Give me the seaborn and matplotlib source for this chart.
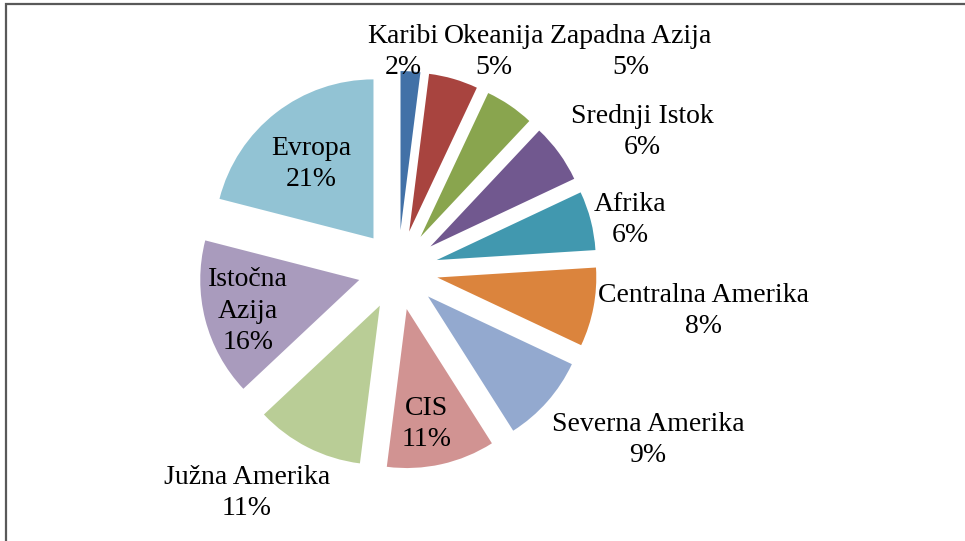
import matplotlib
matplotlib.use("Agg")
import matplotlib.pyplot as plt
from matplotlib.patches import Rectangle
import seaborn as sns

# podaci
regije = ["Karibi", "Okeanija", "Zapadna Azija", "Srednji Istok", "Afrika",
          "Centralna Amerika", "Severna Amerika", "CIS", "Južna Amerika",
          "Istočna\nAzija", "Evropa"]
udjeli = [2, 5, 5, 6, 6, 8, 9, 11, 11, 16, 21]

boje = ["#4271A7", "#A8443F", "#89A54E", "#71588F", "#4198AF", "#DB843D",
        "#93A9CF", "#D19392", "#B9CD96", "#A99BBD", "#92C3D4"]

# polozaj natpisa (pikseli, od vrha slike)
natpisi_xy = [(403, 52), (494, 52), (631, 52), (642, 132), (630, 220),
              (704, 311), (648, 440), (427, 424), (247, 493), (248, 311),
              (311, 164)]

sns.set_style("white")
plt.rcParams["font.family"] = ["Liberation Serif", "DejaVu Serif"]

W, H = 965, 541
fig = plt.figure(figsize=(W / 100, H / 100), dpi=100)
ax = fig.add_axes([0, 0, 1, 1])

# explode je u jedinicama podataka (pikseli)
ax.pie(udjeli, colors=boje, startangle=90, counterclock=False,
       explode=[40] * len(udjeli), radius=159, center=(398, H - 270),
       wedgeprops=dict(linewidth=0))

for naziv, v, (x, y) in zip(regije, udjeli, natpisi_xy):
    ax.text(x, H - y, f"{naziv}\n{v}%", ha="center", va="center",
            fontsize=20, color="black", linespacing=1.32)

ax.set_xlim(0, W)
ax.set_ylim(0, H)
ax.set_aspect("equal")
ax.axis("off")

# okvir grafikona
fig.add_artist(Rectangle((6 / W, -0.2), 1.2, 1.2 + (H - 4) / H - 1.0,
                         transform=fig.transFigure, fill=False,
                         edgecolor="#595959", linewidth=1.6))

fig.savefig("out.png", dpi=100)
